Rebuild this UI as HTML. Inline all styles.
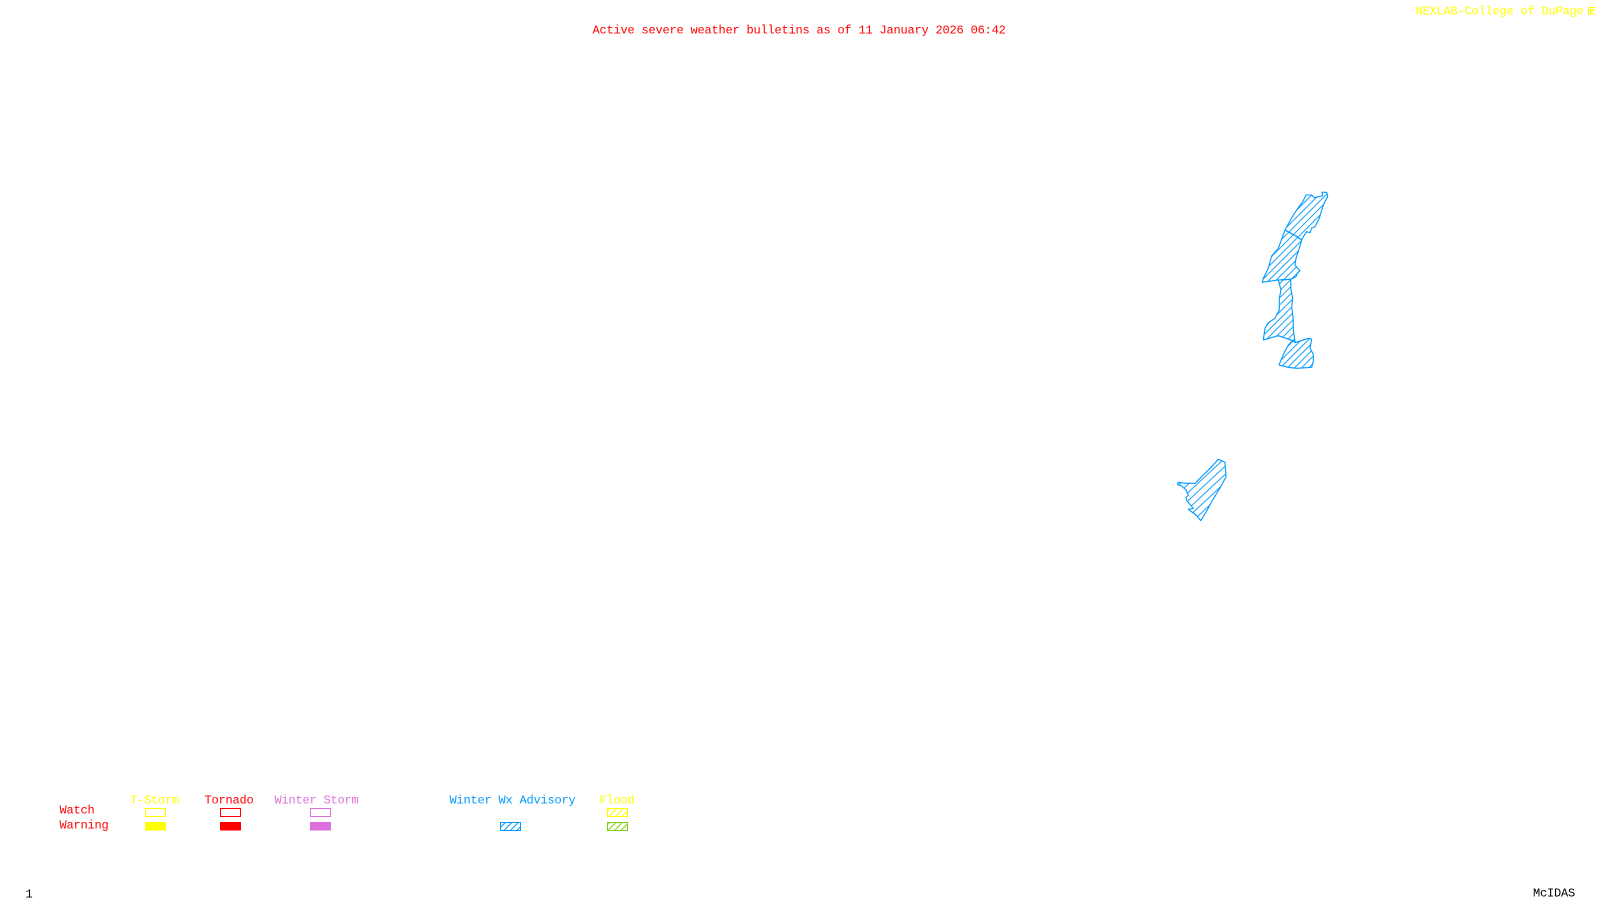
<!DOCTYPE html>
<html>
<head>
<meta charset="utf-8">
<style>
html,body{margin:0;padding:0;background:#fff;width:1600px;height:900px;overflow:hidden}
svg{display:block}
text{font-family:"Liberation Mono",monospace;font-size:12px;letter-spacing:-0.2px;white-space:pre}
</style>
</head>
<body>
<svg width="1600" height="900" viewBox="0 0 1600 900" xmlns="http://www.w3.org/2000/svg">
<defs>
<pattern id="hb" width="5" height="5" patternUnits="userSpaceOnUse" patternTransform="rotate(-45)">
<rect width="5" height="0.9" fill="#0099ff"/>
</pattern>
<pattern id="hc" width="6" height="6" patternUnits="userSpaceOnUse" patternTransform="rotate(-43)">
<rect width="6" height="0.9" fill="#0099ff"/>
</pattern>
<pattern id="hb2" width="4.6" height="4.6" patternUnits="userSpaceOnUse" patternTransform="rotate(-45)">
<rect width="4.6" height="1" fill="#0099ff"/>
</pattern>
<pattern id="hy" width="4.6" height="4.6" patternUnits="userSpaceOnUse" patternTransform="rotate(-45)">
<rect width="4.6" height="1" fill="#ffff00"/>
</pattern>
<pattern id="hg" width="4.6" height="4.6" patternUnits="userSpaceOnUse" patternTransform="rotate(-45)">
<rect width="4.6" height="1" fill="#7fd010"/>
</pattern>
</defs>

<text x="592.5" y="33.6" fill="#ff0000">Active severe weather bulletins as of 11 January 2026 06:42</text>
<text x="1415.5" y="14.6" fill="#ffff00">NEXLAB-College of DuPage</text>
<path d="M1588.5 15V7.5H1595.5M1590.5 15V9.5H1594L1591 12L1595 15" fill="none" stroke="#ffff00" stroke-width="1"/>

<g stroke="#0099ff" stroke-width="1.1" stroke-linejoin="round">
<polygon fill="url(#hb)" points="1306,195 1311.7,195 1314.3,197.7 1318.3,196.7 1322.7,196 1322,192.3 1326.7,192.3 1327.7,196.7 1324,203.3 1321.7,210 1319.3,218.3 1315,226.7 1311.7,228 1310,232.7 1306.7,231.7 1303.3,236.7 1301.7,240 1296,236 1285,230 1290,221 1293.3,215 1298.3,207.7 1302.7,201.7"/>
<polygon fill="url(#hb)" points="1285,230 1296,236 1301.7,240 1299.3,248.3 1296,258.3 1295,265 1300,270.7 1297.3,273.3 1296,276.7 1290.7,279.3 1278.3,280 1262.3,282.3 1263.3,278.3 1268.3,268.3 1271.7,256 1278.3,248.3"/>
<polygon fill="url(#hb)" points="1278.3,280 1290.7,279.3 1291,290 1292.7,298.3 1291.7,306.7 1293.3,320 1293.3,330 1295,341.7 1286,338.3 1278.3,335.7 1263.3,340 1265,328.3 1268.3,322.7 1275,318.3 1279.3,310 1279.3,298.3 1281,290"/>
<polygon fill="url(#hb)" points="1293.3,340 1295,342.7 1308.3,338.3 1311.7,339 1310,348.3 1313.3,354.3 1313.3,361.7 1311.7,367.3 1296.7,368.3 1288,367.3 1279,365 1284,353.3 1288.3,345"/>
<polygon fill="url(#hc)" points="1218.3,459.3 1225,462.3 1226,477 1220,488 1212,501 1206.7,511 1200.7,520.7 1196,515 1188.3,509.3 1193.3,508.3 1187,501 1186,497.7 1188.3,495 1186,490 1181.7,486 1177.3,484.3 1178.3,482.3 1185,483.3 1195,483.3 1203.3,475 1211.7,466.7"/>
</g>

<text x="130" y="803.6" fill="#ffff00">T-Storm</text>
<text x="204.5" y="803.6" fill="#ff0000">Tornado</text>
<text x="274.5" y="803.6" fill="#dd70dd">Winter Storm</text>
<text x="449.5" y="803.6" fill="#0099ff">Winter Wx Advisory</text>
<text x="599.5" y="803.6" fill="#ffff00">Flood</text>
<text x="59.5" y="813.6" fill="#ff0000">Watch</text>
<text x="59.5" y="828.6" fill="#ff0000">Warning</text>

<rect x="145.5" y="808.5" width="20" height="8" fill="none" stroke="#ffff00"/>
<rect x="220.5" y="808.5" width="20" height="8" fill="none" stroke="#ff0000"/>
<rect x="310.5" y="808.5" width="20" height="8" fill="none" stroke="#dd70dd"/>
<rect x="607.5" y="808.5" width="20" height="8" fill="url(#hy)" stroke="#ffff00"/>

<rect x="145" y="822" width="21" height="8.5" fill="#ffff00"/>
<rect x="220" y="822" width="21" height="8.5" fill="#ff0000"/>
<rect x="310" y="822" width="21" height="8.5" fill="#dd70dd"/>
<rect x="500.5" y="822.5" width="20" height="8" fill="url(#hb2)" stroke="#0099ff"/>
<rect x="607.5" y="822.5" width="20" height="8" fill="url(#hg)" stroke="#7fd010"/>

<text x="25.5" y="897.6" fill="#000000">1</text>
<text x="1533" y="896.6" fill="#000000">McIDAS</text>
</svg>
</body>
</html>
